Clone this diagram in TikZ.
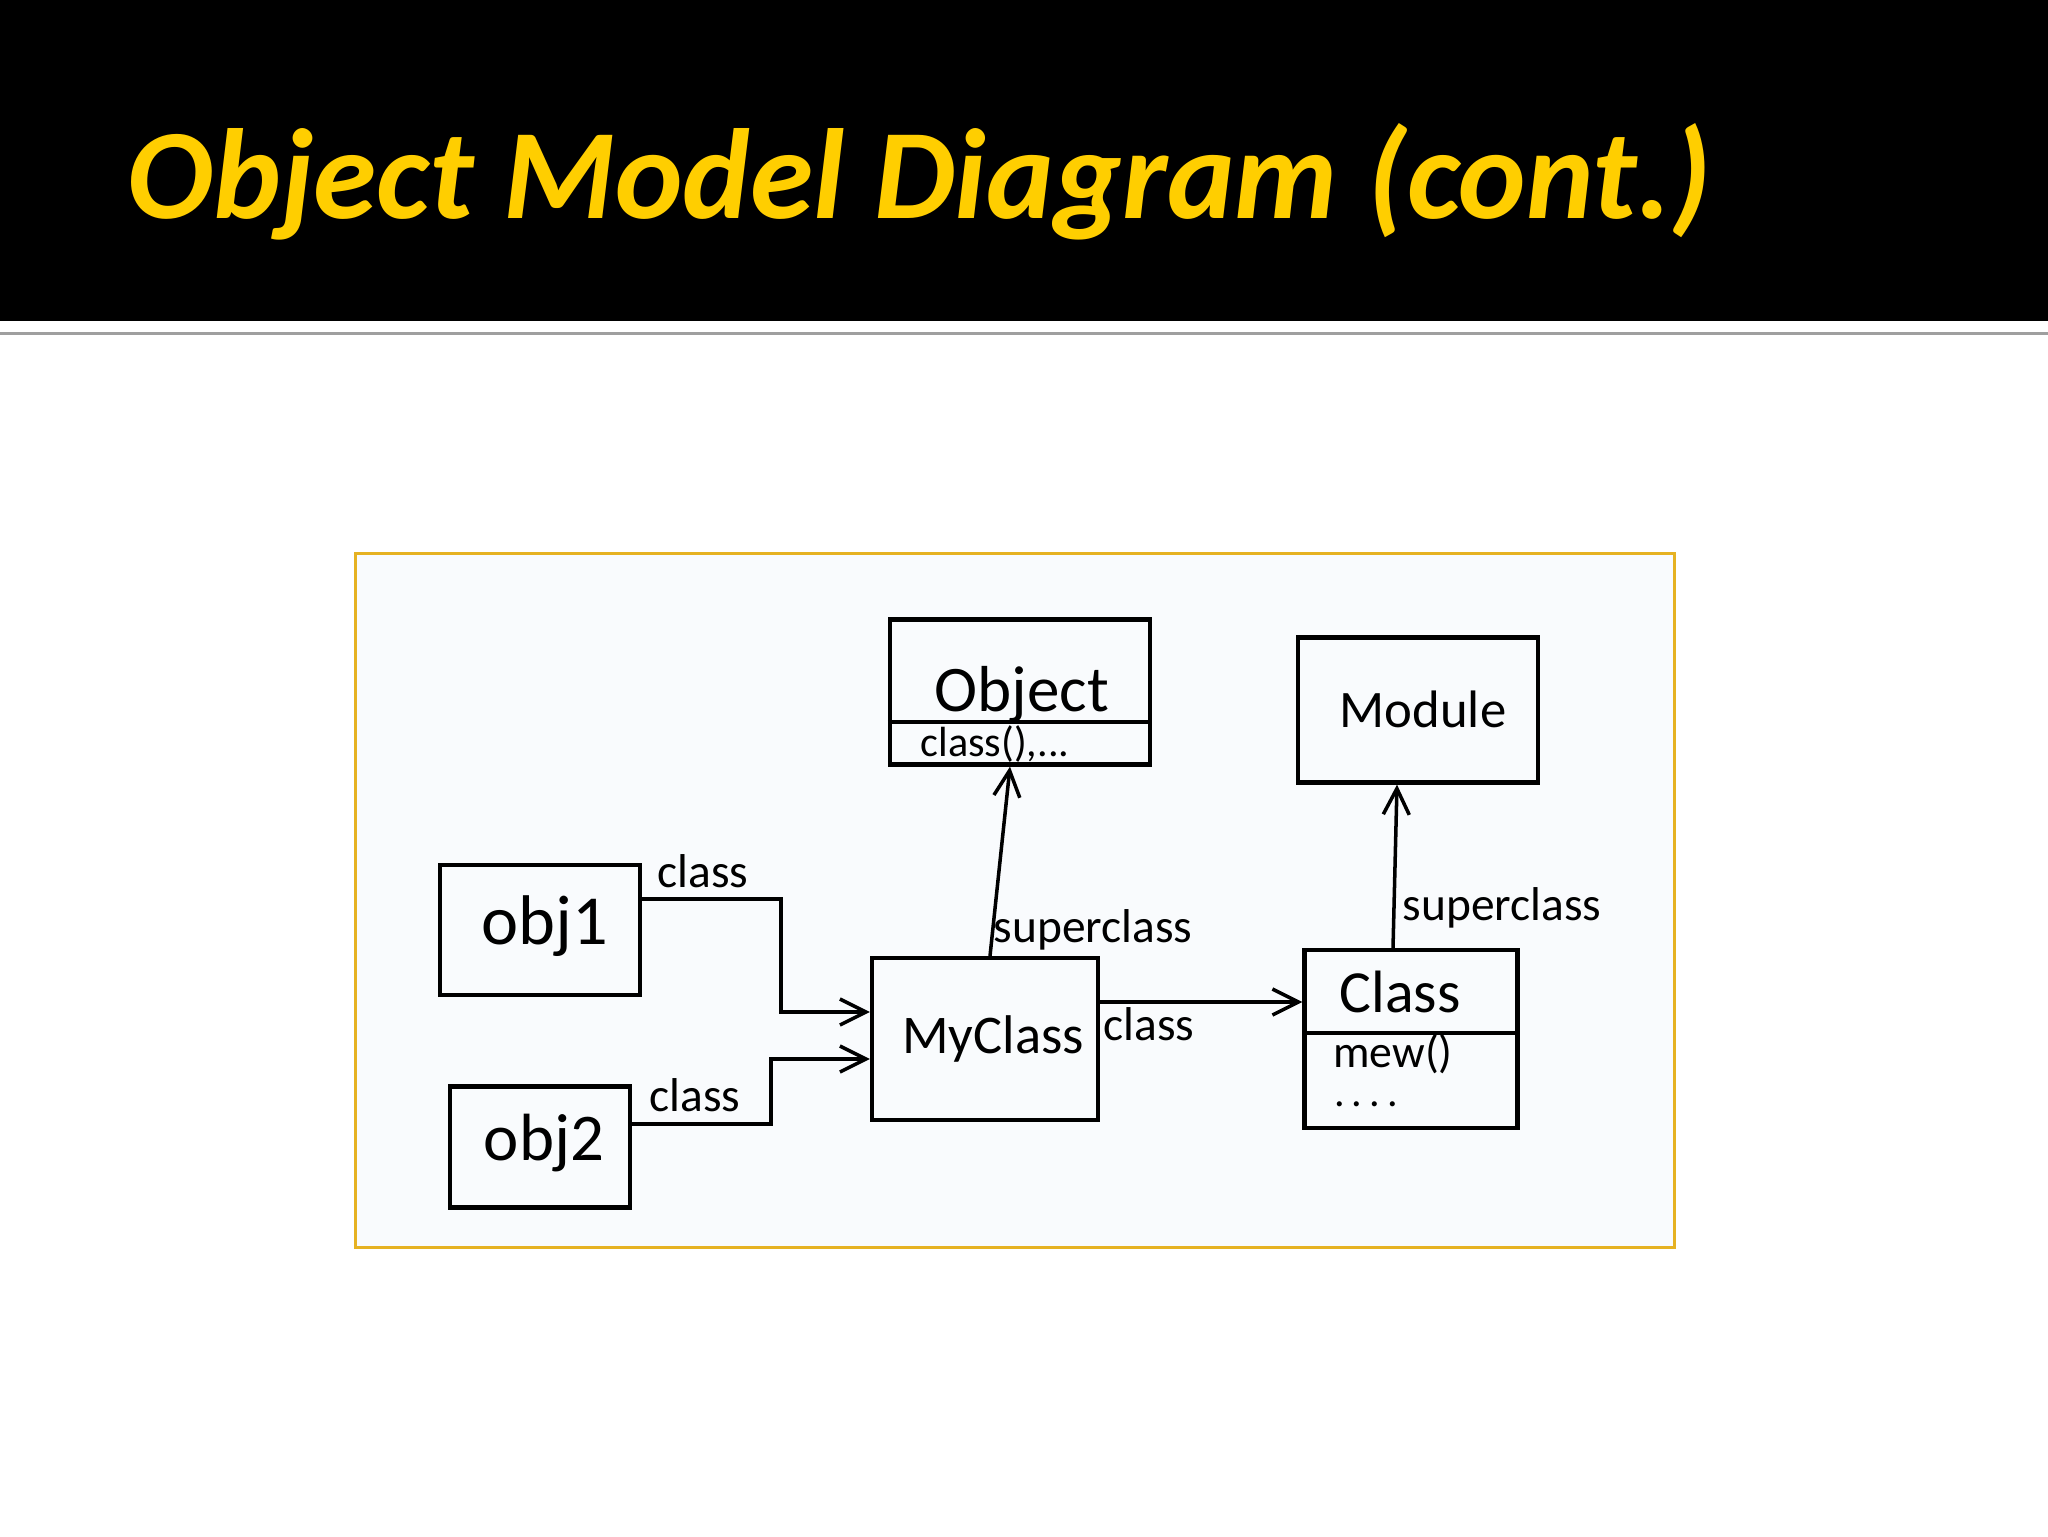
\documentclass[tikz,border=0pt]{standalone}
\usepackage{fontspec}
\setmainfont{Carlito}
\usetikzlibrary{arrows.meta}

\definecolor{omdgold}{RGB}{255,206,0}
\definecolor{omdframe}{RGB}{230,178,34}
\definecolor{omdpaper}{RGB}{249,251,253}

\tikzset{
  omdbox/.style={draw, line width=1.2pt, inner sep=0pt},
  omdname/.style={anchor=base, inner sep=0pt, font=\fontsize{17}{19}\selectfont},
  omdsmall/.style={anchor=base, inner sep=0pt, font=\fontsize{13}{15}\selectfont},
  omdlab/.style={anchor=base, inner sep=0pt, font=\fontsize{13.5}{15}\selectfont},
  omdarr/.style={-{Straight Barb[length=2.6mm,width=2.6mm]}, line width=1pt},
  omdline/.style={line width=1.1pt}
}

\begin{document}
\begin{tikzpicture}[x=0.1mm,y=-0.1mm]
  \useasboundingbox (0,0) rectangle (2048,1536);

  % title bar
  \fill[black] (0,0) rectangle (2048,321);
  \draw[gray!75, line width=0.3mm] (0,333) -- (2048,333);
  \node[anchor=base west, inner sep=0pt, text=omdgold, font=\fontsize{36.5}{40}\selectfont\bfseries\itshape] (title) at (127,218) {Object Model Diagram (cont.)};

  % frame of the sketch
  \draw[omdframe, fill=omdpaper, line width=0.3mm] (355,553) rectangle (1674,1247);

  % boxes
  \node[omdbox, minimum width=20mm, minimum height=13mm] (obj1) at (540,930) {};
  \node[omdbox, minimum width=18mm, minimum height=12.1mm] (obj2) at (540,1147) {};
  \node[omdbox, minimum width=22.6mm, minimum height=16.2mm] (myclass) at (985,1039) {};
  \node[omdbox, minimum width=26mm, minimum height=14.5mm] (object) at (1020,692) {};
  \node[omdbox, minimum width=24mm, minimum height=14.5mm] (module) at (1418,710) {};
  \node[omdbox, minimum width=21.3mm, minimum height=17.8mm] (class) at (1411,1039) {};

  % box texts
  \node[omdname, font=\fontsize{20}{22}\selectfont] (obj1name) at (545,944) {obj1};
  \node[omdname, font=\fontsize{19}{21}\selectfont] (obj2name) at (544,1160) {obj2};
  \node[omdname, font=\fontsize{15.5}{17}\selectfont] (myclassname) at (993,1053) {MyClass};
  \node[omdname, font=\fontsize{18.5}{20}\selectfont] (objectname) at (1022,711) {Object};
  \node[omdsmall, font=\fontsize{12}{14}\selectfont] (objectops) at (995,756) {class(),...};
  \node[omdname] (classname) at (1400,1012) {Class};
  \node[omdname, font=\fontsize{15}{17}\selectfont] (modulename) at (1423,727) {Module};
  \node[omdsmall] (classops) at (1393,1067) {mew()};
  \node[omdsmall, font=\fontsize{12}{14}\selectfont] (classmore) at (1366,1106) {.\,.\,.\,.};

  % compartments
  \draw[omdline] ([yshift=-3mm]object.west) -- ([yshift=-3mm]object.east);
  \draw[omdline] ([yshift=0.6mm]class.west) -- ([yshift=0.6mm]class.east);

  % links
  \draw[omdarr] ([yshift=3.1mm]obj1.east) -- ++(139,0) |- ([yshift=2.7mm]myclass.west);
  \draw[omdarr] ([yshift=2.3mm]obj2.east) -- ++(139,0) |- ([yshift=-2mm]myclass.west);
  \draw[omdarr] ([xshift=0.5mm]myclass.north) -- ([xshift=-1mm]object.south);
  \draw[omdarr] ([yshift=3.7mm]myclass.east) -- ([yshift=3.7mm]class.west);
  \draw[omdarr] ([xshift=-1.8mm]class.north) -- ([xshift=-2.1mm]module.south);

  % link labels
  \node[omdlab] (obj1lab) at (703,887) {class};
  \node[omdlab] (obj2lab) at (695,1111) {class};
  \node[omdlab] (mysuperlab) at (1093,942) {superclass};
  \node[omdlab] (myclasslab) at (1149,1040) {class};
  \node[omdlab] (classsuperlab) at (1502,920) {superclass};
\end{tikzpicture}
\end{document}
